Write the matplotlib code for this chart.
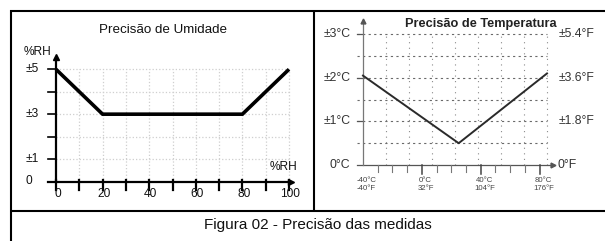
import matplotlib
matplotlib.use("Agg")
import matplotlib.pyplot as plt
import numpy as np
from matplotlib.lines import Line2D

plt.rcParams['font.family'] = ['Liberation Sans', 'DejaVu Sans']

# ---------------- data ----------------
hum_x = [0, 20, 80, 100]          # %RH
hum_err = [5, 3, 3, 5]            # ±%RH
hum_xticks = [0, 20, 40, 60, 80, 100]
hum_yticks = [1, 3, 5]
hum_ylabels = ['±1', '±3', '±5']

temp_x = [-40, 25, 85]            # °C
temp_err = [2.05, 0.5, 2.1]       # ±°C
temp_yticks = [0, 1, 2, 3]
temp_ylabels_c = ['0°C', '±1°C', '±2°C', '±3°C']
temp_ylabels_f = ['0°F', '±1.8°F', '±3.6°F', '±5.4°F']
temp_xticks = [-40, 0, 40, 80]
temp_xlabels = ['-40°C\n-40°F', '0°C\n32°F', '40°C\n104°F', '80°C\n176°F']

W, H = 605, 241
fig = plt.figure(figsize=(W / 100, H / 100), dpi=100)
fig.patch.set_facecolor('white')


def fx(x):
    return x / W


def fy(y):
    return 1 - y / H


def fline(xs, ys, lw=1.5, color='black'):
    fig.add_artist(Line2D([fx(x) for x in xs], [fy(y) for y in ys],
                          transform=fig.transFigure, lw=lw, color=color,
                          solid_capstyle='butt'))


# ---------------- frame ----------------
fline([10, 605], [10.5, 10.5])
fline([10.5, 10.5], [10, 241])
fline([10, 605], [210.5, 210.5])
fline([314, 314], [10, 210.5])

fig.text(fx(318), fy(225), 'Figura 02 - Precisão das medidas', ha='center',
         va='center', fontsize=11, color='#111')

# ---------------- humidity panel ----------------
x0, x1, y0, y1 = 56, 289, 181.5, 69.3
ax = fig.add_axes([fx(x0), fy(y0), (x1 - x0) / W, (y0 - y1) / H])
ax.set_xlim(0, 100)
ax.set_ylim(0, 5)
ax.axis('off')

for gx in range(10, 101, 10):
    ax.plot([gx, gx], [0, 5], color='#cfcfcf', lw=0.9, ls=':', clip_on=False, zorder=1)
for gy in range(1, 6):
    ax.plot([0, 100], [gy, gy], color='#cfcfcf', lw=0.9, ls=':', clip_on=False, zorder=1)

# axes
ax.plot([-3.5, 100], [0, 0], color='black', lw=1.6, clip_on=False, zorder=3)
ax.plot([0, 0], [0, 5.45], color='black', lw=1.6, clip_on=False, zorder=3)
ax.plot([0], [5.55], marker='^', color='black', ms=5, clip_on=False, zorder=3)
ax.plot([101], [0.0], marker='>', color='black', ms=4, clip_on=False, zorder=3)
for tx in range(0, 101, 10):
    ax.plot([tx, tx], [0.05, -0.38], color='black', lw=1.6, clip_on=False, zorder=3)
for ty in range(1, 6):
    ax.plot([-3.5, 0], [ty, ty], color='black', lw=1.2, clip_on=False, zorder=3)

ax.plot(hum_x, hum_err, color='black', lw=2.6, solid_capstyle='butt',
        solid_joinstyle='miter', clip_on=False, zorder=4)

for t in hum_xticks:
    ax.text(t + 0.6, -0.56, str(t), ha='center', va='center', fontsize=8.6, color='#111')
for t, lab in zip(hum_yticks, hum_ylabels):
    ax.text(-13.2, t, lab, ha='left', va='center', fontsize=8.6, color='#111')
ax.text(-13.2, 0.03, '0', ha='left', va='center', fontsize=8.6, color='#111')

fig.text(fx(24), fy(52), '%RH', ha='left', va='center', fontsize=8.6, color='#111')
fig.text(fx(284), fy(167), '%RH', ha='center', va='center', fontsize=8.6, color='#111')
fig.text(fx(163), fy(30), 'Precisão de Umidade', ha='center', va='center',
         fontsize=9.6, color='#111')

# ---------------- temperature panel ----------------
X0, X1, Y0, Y1 = 363, 547, 165, 34.2
bx = fig.add_axes([fx(X0), fy(Y0), (X1 - X0) / W, (Y0 - Y1) / H])
bx.set_xlim(-40, 85)
bx.set_ylim(0, 3)
bx.axis('off')

gcol = '#6a6a6a'
for gx in np.linspace(-40, 85, 9)[1:]:
    bx.plot([gx, gx], [0, 2.95], color='#8a8a8a', lw=0.8, ls=(0, (1, 4)),
            clip_on=False, zorder=1)
for gy in np.arange(0.5, 3.01, 0.5):
    bx.plot([-44, 85], [gy, gy], color=gcol, lw=0.8, ls=(0, (2, 3)),
            clip_on=False, zorder=1)
for t in temp_yticks[1:]:
    bx.plot([-44, -40], [t, t], color='#555', lw=0.9, clip_on=False, zorder=2)

bx.plot([-44, 88], [0, 0], color='#555', lw=0.9, clip_on=False, zorder=3)
bx.plot([-40, -40], [0, 3.25], color='#777', lw=0.9, clip_on=False, zorder=3)
bx.plot([-40], [3.3], marker='^', color='#555', ms=3.5, clip_on=False, zorder=3)
bx.plot([89], [0], marker='>', color='#555', ms=3.5, clip_on=False, zorder=3)
for tx in range(-30, 81, 10):
    major = tx in (0, 40, 80)
    bx.plot([tx, tx], [0, -0.2 if major else -0.16], color='#444' if major else '#777',
            lw=1.1 if major else 0.8, clip_on=False, zorder=3)

bx.plot(temp_x, temp_err, color='#2a2a2a', lw=1.4, clip_on=False, zorder=4)

for t, lab in zip(temp_yticks, temp_ylabels_c):
    bx.text(-48.5, t, lab, ha='right', va='center', fontsize=8.8, color='#333')
for t, lab in zip(temp_yticks, temp_ylabels_f):
    bx.text(93 if t else 92, t, lab, ha='left', va='center', fontsize=8.8, color='#333')
for t, lab in zip(temp_xticks, temp_xlabels):
    bx.text(t + 2.5, -0.45, lab, ha='center', va='center', fontsize=5.6,
            color='#444', linespacing=1.1)

fig.text(fx(481), fy(24), 'Precisão de Temperatura', ha='center', va='center',
         fontsize=9.2, fontweight='bold', color='#222')

fig.savefig('out.png', dpi=100)
